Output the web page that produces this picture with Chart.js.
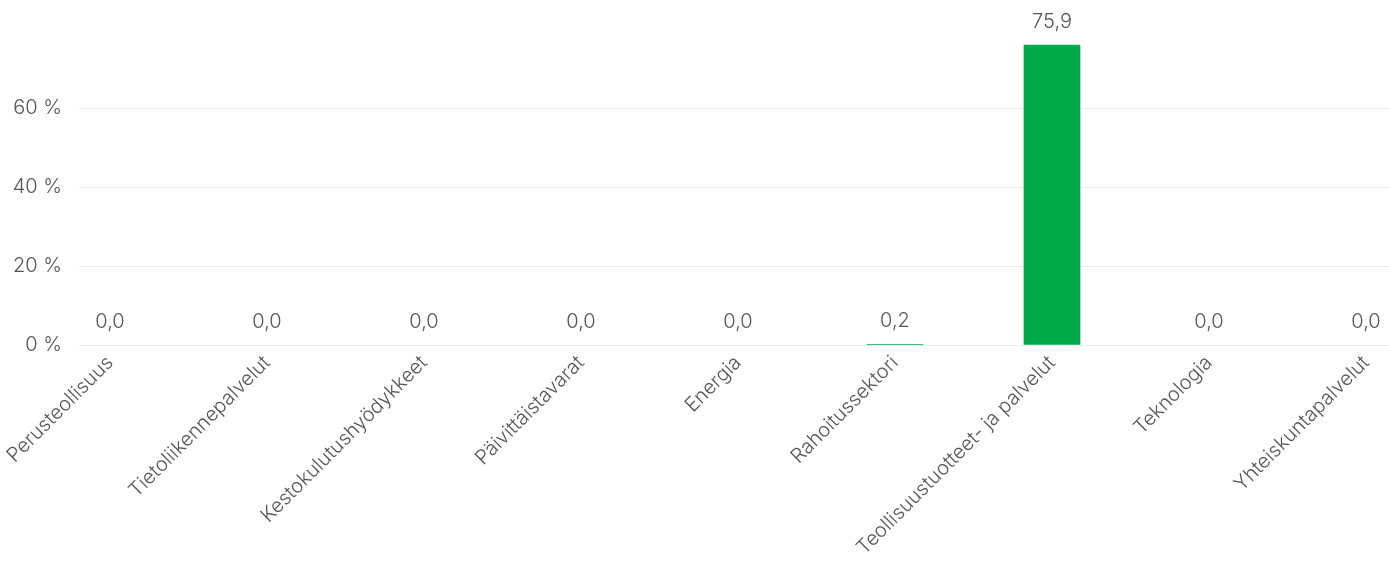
<!DOCTYPE html>
<html>
<head>
<meta charset="utf-8">
<script src="https://cdn.jsdelivr.net/npm/chart.js@4/dist/chart.umd.min.js"></script>
<style>
  html, body { margin: 0; padding: 0; background: #fff; }
  #wrap { width: 1389px; height: 561px; position: relative; }
</style>
</head>
<body>
<div id="wrap"><canvas id="c"></canvas></div>
<script>
const categories = [
  "Perusteollisuus",
  "Tietoliikennepalvelut",
  "Kestokulutushyödykkeet",
  "Päivittäistavarat",
  "Energia",
  "Rahoitussektori",
  "Teollisuustuotteet- ja palvelut",
  "Teknologia",
  "Yhteiskuntapalvelut"
];
const values = [0.0, 0.0, 0.0, 0.0, 0.0, 0.2, 75.9, 0.0, 0.0];
const yTicks = [0, 20, 40, 60];

const FONT = "Inter, 'Open Sans', sans-serif";
const SIZE = 20;
const WEIGHT = 300;
const TEXT = "#555555";
const GREEN = "#00a94a";

const valueLabels = {
  id: "valueLabels",
  afterDatasetsDraw(chart) {
    const ctx = chart.ctx;
    const meta = chart.getDatasetMeta(0);
    ctx.save();
    ctx.font = WEIGHT + " " + SIZE + "px " + FONT;
    ctx.fillStyle = TEXT;
    ctx.textAlign = "center";
    ctx.textBaseline = "middle";
    meta.data.forEach((bar, i) => {
      const txt = values[i].toFixed(1).replace(".", ",");
      ctx.fillText(txt, bar.x, bar.y - 23);
    });
    ctx.restore();
  }
};

new Chart(document.getElementById("c"), {
  type: "bar",
  data: {
    datasets: [{
      data: values.map((v, i) => ({ x: i, y: v })),
      backgroundColor: c => (c.raw && c.raw.y > 0) ? GREEN : "rgba(0,0,0,0)",
      borderWidth: 0,
      barThickness: 56
    }]
  },
  options: {
    responsive: true,
    maintainAspectRatio: false,
    animation: false,
    layout: { padding: { top: 28, left: 0, right: 0, bottom: 0 } },
    plugins: { legend: { display: false }, tooltip: { enabled: false } },
    scales: {
      x: {
        type: "linear",
        offset: false,
        min: -0.1975,
        max: 8.1465,
        afterBuildTicks: s => { s.ticks = categories.map((_, i) => ({ value: i })); },
        afterFit: s => { s.height = 216; },
        grid: { display: false, drawTicks: false },
        border: { display: false },
        ticks: {
          autoSkip: false,
          maxRotation: 45,
          minRotation: 45,
          padding: 6,
          color: TEXT,
          font: { family: FONT, size: SIZE, weight: WEIGHT },
          callback: v => categories[v]
        }
      },
      y: {
        min: 0,
        max: 80,
        afterBuildTicks: s => { s.ticks = yTicks.map(v => ({ value: v })); },
        afterFit: s => { s.width = 79; },
        grid: { color: "#ebebeb", lineWidth: 1, drawTicks: false },
        border: { display: false },
        ticks: {
          padding: 17,
          color: TEXT,
          font: { family: FONT, size: SIZE, weight: WEIGHT },
          callback: v => v + " %"
        }
      }
    }
  },
  plugins: [valueLabels]
});
</script>
</body>
</html>
